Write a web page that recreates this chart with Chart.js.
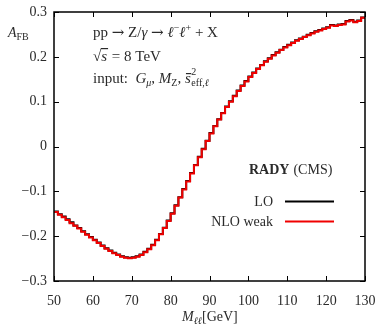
<!DOCTYPE html>
<html>
<head>
<meta charset="utf-8">
<script src="https://cdn.jsdelivr.net/npm/chart.js@4.4.1/dist/chart.umd.min.js"></script>
<style>
  html, body { margin: 0; padding: 0; background: #fff; }
  #wrap { width: 376px; height: 326px; }
</style>
</head>
<body>
<div id="wrap"><canvas id="afb"></canvas></div>
<script>
// lower bin edges in GeV, 1 GeV bins from 50 to 130
const binLow = Array.from({ length: 80 }, (_, i) => 50 + i);
const binHigh = 130;

const nloWeak = [
  -0.146, -0.152, -0.158, -0.164, -0.171, -0.177, -0.183, -0.190, -0.197, -0.203,
  -0.209, -0.215, -0.222, -0.228, -0.233, -0.238, -0.242, -0.246, -0.248, -0.249,
  -0.248, -0.246, -0.242, -0.236, -0.229, -0.220, -0.209, -0.196, -0.182, -0.166,
  -0.150, -0.132, -0.114, -0.096, -0.078, -0.060, -0.042, -0.024, -0.006, 0.012,
  0.029, 0.045, 0.060, 0.074, 0.088, 0.100, 0.112, 0.124, 0.135, 0.145,
  0.155, 0.164, 0.173, 0.181, 0.189, 0.196, 0.203, 0.209, 0.215, 0.221,
  0.226, 0.231, 0.236, 0.240, 0.244, 0.248, 0.252, 0.256, 0.259, 0.262,
  0.265, 0.270, 0.269, 0.271, 0.272, 0.279, 0.281, 0.277, 0.280, 0.287
];

const lo = [
  -0.145, -0.151, -0.156, -0.162, -0.169, -0.176, -0.182, -0.189, -0.196, -0.202,
  -0.208, -0.214, -0.221, -0.227, -0.232, -0.237, -0.241, -0.245, -0.247, -0.248,
  -0.247, -0.245, -0.241, -0.235, -0.228, -0.219, -0.208, -0.195, -0.181, -0.165,
  -0.149, -0.131, -0.113, -0.095, -0.077, -0.059, -0.041, -0.023, -0.005, 0.013,
  0.030, 0.046, 0.061, 0.075, 0.089, 0.101, 0.113, 0.125, 0.136, 0.146,
  0.156, 0.165, 0.174, 0.182, 0.190, 0.197, 0.204, 0.210, 0.216, 0.222,
  0.227, 0.232, 0.237, 0.241, 0.245, 0.249, 0.253, 0.257, 0.260, 0.263,
  0.266, 0.271, 0.270, 0.272, 0.273, 0.280, 0.282, 0.278, 0.281, 0.288
];

const xTicks = [50, 60, 70, 80, 90, 100, 110, 120, 130];
const yTicks = [-0.3, -0.2, -0.1, 0, 0.1, 0.2, 0.3];

const SERIF = "'Liberation Serif', 'DejaVu Serif', serif";
const ARROW = "'DejaVu Serif', serif";
const INK = '#2a2a2a';

// histogram points: left edge of each bin, plus closing point at the last edge
function histPoints(values) {
  const pts = binLow.map((x, i) => ({ x, y: values[i] }));
  pts.push({ x: binHigh, y: values[values.length - 1] });
  return pts;
}

function fmtTick(v) {
  const r = Math.round(v * 10) / 10;
  if (r === 0) return '0';
  return (r < 0 ? '\u2212' : '') + Math.abs(r).toString();
}

function setFont(ctx, p) {
  const size = p.size || 15;
  ctx.font = (p.italic ? 'italic ' : '') + (p.bold ? 'bold ' : '') + size + 'px ' + (p.family || SERIF);
}

// draws a run of text pieces with different styles, left to right; returns end x
function drawRich(ctx, x, y, parts) {
  let cx = x;
  parts.forEach(p => {
    setFont(ctx, p);
    ctx.fillText(p.t, cx, y + (p.dy || 0));
    cx += ctx.measureText(p.t).width + (p.gap || 0);
  });
  return cx;
}

const framePlugin = {
  id: 'frame',
  afterDraw(chart) {
    const { ctx, chartArea: a, scales } = chart;
    ctx.save();
    ctx.strokeStyle = '#000';
    ctx.lineWidth = 1.5;
    ctx.strokeRect(a.left, a.top, a.right - a.left, a.bottom - a.top);

    // inward ticks on all four sides
    ctx.lineWidth = 1;
    ctx.beginPath();
    xTicks.forEach(v => {
      const px = Math.round(scales.x.getPixelForValue(v)) + 0.5;
      ctx.moveTo(px, a.bottom); ctx.lineTo(px, a.bottom - 5);
      ctx.moveTo(px, a.top); ctx.lineTo(px, a.top + 5);
    });
    yTicks.forEach(v => {
      const py = Math.round(scales.y.getPixelForValue(v)) + 0.5;
      ctx.moveTo(a.left, py); ctx.lineTo(a.left + 5, py);
      ctx.moveTo(a.right, py); ctx.lineTo(a.right - 5, py);
    });
    ctx.stroke();

    ctx.fillStyle = INK;
    ctx.textBaseline = 'alphabetic';
    ctx.textAlign = 'left';

    // axis titles
    drawRich(ctx, 8, 37, [
      { t: 'A', italic: true, size: 14 },
      { t: 'FB', size: 10, dy: 3 }
    ]);
    drawRich(ctx, 182, 321, [
      { t: 'M', italic: true, size: 14 },
      { t: '\u2113\u2113', italic: true, size: 10, dy: 3 },
      { t: '[GeV]', size: 14 }
    ]);

    // process text
    drawRich(ctx, 93, 37, [
      { t: 'pp ', size: 15 },
      { t: '\u2192', size: 15, family: ARROW },
      { t: ' Z/', size: 15 },
      { t: '\u03b3', italic: true, size: 15 },
      { t: ' ', size: 15 },
      { t: '\u2192', size: 15, family: ARROW },
      { t: ' ', size: 15 },
      { t: '\u2113', italic: true, size: 15 },
      { t: '\u2212', size: 10, dy: -6 },
      { t: '\u2113', italic: true, size: 15 },
      { t: '+', size: 10, dy: -6 },
      { t: ' + X', size: 15 }
    ]);

    // sqrt(s) = 8 TeV
    const rEnd = drawRich(ctx, 93, 61, [{ t: '\u221a', size: 15 }]);
    const sEnd0 = drawRich(ctx, rEnd, 61, [{ t: 's', italic: true, size: 15 }]);
    ctx.fillRect(rEnd - 0.5, 48, sEnd0 - rEnd + 1.5, 1.2);
    drawRich(ctx, sEnd0 + 1, 61, [{ t: ' = 8 TeV', size: 15 }]);

    // input schemes
    const x0 = drawRich(ctx, 93, 83, [
      { t: 'input:  ', size: 15 },
      { t: 'G', italic: true, size: 15 },
      { t: '\u03bc', italic: true, size: 10, dy: 3 },
      { t: ', ', size: 15 },
      { t: 'M', italic: true, size: 15 },
      { t: 'Z', size: 10, dy: 3 },
      { t: ', ', size: 15 }
    ]);
    const sEnd = drawRich(ctx, x0, 83, [{ t: 's', italic: true, size: 15 }]);
    ctx.fillRect(x0 + 1, 73, sEnd - x0 - 0.5, 1.2);
    drawRich(ctx, sEnd + 0.5, 83, [{ t: '2', size: 10, dy: -8 }]);
    drawRich(ctx, sEnd + 0.5, 83, [
      { t: 'eff,', size: 10, dy: 3 },
      { t: '\u2113', italic: true, size: 10, dy: 3 }
    ]);

    // legend
    drawRich(ctx, 249, 174, [
      { t: 'RADY', bold: true, size: 14, gap: 4 },
      { t: '(CMS)', size: 14 }
    ]);
    ctx.textAlign = 'right';
    ctx.font = '14px ' + SERIF;
    ctx.fillText('LO', 273, 206);
    ctx.fillText('NLO weak', 273, 226);
    ctx.lineWidth = 2;
    ctx.strokeStyle = '#000';
    ctx.beginPath(); ctx.moveTo(285, 201.5); ctx.lineTo(334, 201.5); ctx.stroke();
    ctx.strokeStyle = '#f00000';
    ctx.beginPath(); ctx.moveTo(285, 221.5); ctx.lineTo(334, 221.5); ctx.stroke();
    ctx.restore();
  }
};

new Chart(document.getElementById('afb'), {
  type: 'line',
  data: {
    datasets: [
      {
        label: 'LO',
        data: histPoints(lo),
        borderColor: '#000',
        borderWidth: 2,
        stepped: 'before',
        pointRadius: 0,
        fill: false,
        order: 2
      },
      {
        label: 'NLO weak',
        data: histPoints(nloWeak),
        borderColor: '#f00000',
        borderWidth: 2,
        stepped: 'before',
        pointRadius: 0,
        fill: false,
        order: 1
      }
    ]
  },
  options: {
    responsive: true,
    maintainAspectRatio: false,
    animation: false,
    events: [],
    layout: { padding: { left: 0, right: 11, top: 12, bottom: 0 } },
    plugins: { legend: { display: false }, tooltip: { enabled: false } },
    scales: {
      x: {
        type: 'linear',
        min: 50,
        max: 130,
        grid: { display: false, drawTicks: false },
        border: { display: false },
        afterBuildTicks: s => { s.ticks = xTicks.map(v => ({ value: v })); },
        afterFit: s => { s.height = 45; s.paddingLeft = 0; s.paddingRight = 0; },
        ticks: {
          color: INK,
          padding: 12,
          maxRotation: 0,
          font: { family: SERIF, size: 14 }
        }
      },
      y: {
        min: -0.3,
        max: 0.3,
        grid: { display: false, drawTicks: false },
        border: { display: false },
        afterBuildTicks: s => { s.ticks = yTicks.map(v => ({ value: v })); },
        afterFit: s => { s.width = 54; s.paddingTop = 0; s.paddingBottom = 0; },
        ticks: {
          color: INK,
          padding: 7,
          callback: v => fmtTick(v),
          font: { family: SERIF, size: 14 }
        }
      }
    }
  },
  plugins: [framePlugin]
});
</script>
</body>
</html>
